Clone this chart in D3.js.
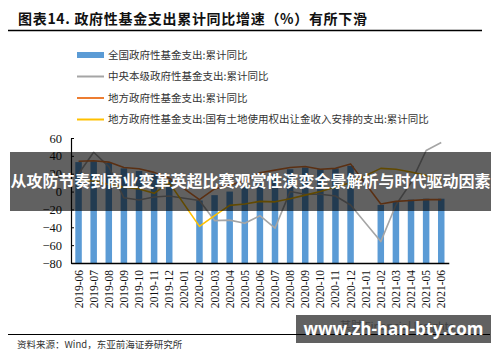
<!DOCTYPE html>
<html>
<head>
<meta charset="utf-8">
<script src="https://cdn.jsdelivr.net/npm/d3@7"></script>
<style>
  body { margin: 0; background: #fff; }
  svg { display: block; }
</style>
</head>
<body>
<svg id="chart" width="500" height="362"></svg>
<script>
// months on the x axis (Jan values are not published)
const months = ["2019-06","2019-07","2019-08","2019-09","2019-10","2019-11","2019-12",
  "2020-01","2020-02","2020-03","2020-04","2020-05","2020-06","2020-07","2020-08",
  "2020-09","2020-10","2020-11","2020-12","2021-01","2021-02","2021-03","2021-04",
  "2021-05","2021-06"];

// 全国政府性基金支出:累计同比 (bars)
const nationalVals = [33, 34, 32, 26, 23, 20, 13.4, null, -10, -4, 0, 5, 13, 19, 25,
  27, 25, 26, 28.8, null, -15, -11, -9, -8, -8];
// 中央本级
const centralVals = [20, 44, 28, -7, -9.5, -6, -5, null, -10, -32.5, -32, -35.5, -27, -41, 0,
  -3, -3, -5, -15, null, -56, -15, 10, 46, 55];
// 地方
const localVals = [34, 34.5, 33, 27, 25.5, 21.5, 15, null, -9, 3, 7, 12, 21, 24, 27,
  28, 25, 26, 31, null, -14, -11, -10, -9, -9];
// 地方: 国有土地使用权出让收入安排的支出
const landVals = [13, 12, 8, 5, 3, -2, 10, null, -39, -27, -15.5, -14, -11, -11.5, -8,
  -4, 0, 5, 10, null, 26, 25, 22, 18, 13];

const yTicks = [-80, -60, -40, -20, 0, 20, 40, 60];

const seriesNames = [
  "全国政府性基金支出:累计同比",
  "中央本级政府性基金支出:累计同比",
  "地方政府性基金支出:累计同比",
  "地方政府性基金支出:国有土地使用权出让金收入安排的支出:累计同比"
];
const colors = ["#5b9bd5", "#a5a5a5", "#ed7d31", "#ffc000"];

const svg = d3.select("#chart");

// title + rule
svg.append("text")
  .attr("x", 18).attr("y", 24)
  .attr("font-family", "'Noto Sans CJK SC', sans-serif")
  .attr("font-weight", "bold")
  .attr("font-size", 14)
  .attr("fill", "#111")
  .attr("textLength", 349).attr("lengthAdjust", "spacing")
  .text("图表14. 政府性基金支出累计同比增速（%）有所下滑");
svg.append("line")
  .attr("x1", 8).attr("x2", 482).attr("y1", 30.5).attr("y2", 30.5)
  .attr("stroke", "#000").attr("stroke-width", 1.5);

// legend
let legend = svg.append("g");
seriesNames.forEach(function (name, i) {
  let y = 55 + i * 21.5;
  if (i == 0) {
    legend.append("rect").attr("x", 77).attr("y", y - 3).attr("width", 27).attr("height", 6)
      .attr("fill", colors[i]);
  } else {
    legend.append("line").attr("x1", 77).attr("x2", 104).attr("y1", y).attr("y2", y)
      .attr("stroke", colors[i]).attr("stroke-width", 2);
  }
  legend.append("text")
    .attr("x", 108).attr("y", y + 3.8)
    .attr("font-family", "'Noto Sans CJK SC', sans-serif")
    .attr("font-size", 10.5)
    .attr("fill", "#333")
    .text(name);
});

// scales
const xScale = d3.scaleBand().domain(months).range([71, 448.8])
  .paddingInner(0.57).paddingOuter(0.285);
const yScale = d3.scaleLinear().domain([-80, 60]).range([263, 138]);
const cx = d => xScale(d) + xScale.bandwidth() / 2;

// bars grow up from the bottom of the axis (-80)
svg.append("g").selectAll("rect")
  .data(months.map((m, i) => ({ m: m, v: nationalVals[i] })).filter(d => d.v !== null))
  .join("rect")
  .attr("x", d => xScale(d.m))
  .attr("width", xScale.bandwidth())
  .attr("y", d => yScale(d.v))
  .attr("height", d => yScale(-80) - yScale(d.v))
  .attr("fill", colors[0]);

// lines, connected across missing months
let lineGen = d3.line().x(d => cx(d.m)).y(d => yScale(d.v));
[centralVals, localVals, landVals].forEach(function (vals, k) {
  let pts = months.map((m, i) => ({ m: m, v: vals[i] })).filter(d => d.v !== null);
  svg.append("path")
    .attr("d", lineGen(pts))
    .attr("fill", "none")
    .attr("stroke", colors[k + 1])
    .attr("stroke-width", 1.6)
    .attr("stroke-linejoin", "round");
});

// y axis
let yAxis = svg.append("g").attr("transform", "translate(71,0)")
  .call(d3.axisLeft(yScale).tickValues(yTicks).tickSize(-3).tickPadding(9).tickSizeOuter(0));
yAxis.select(".domain").attr("stroke", "#000").attr("stroke-width", 1.2);
yAxis.selectAll("line").attr("stroke", "#000");
yAxis.selectAll("text")
  .attr("font-family", "'Liberation Serif', serif")
  .attr("font-size", 12.5).attr("fill", "#111");

// x axis
let xAxis = svg.append("g").attr("transform", "translate(0,263)")
  .call(d3.axisBottom(xScale).tickSize(0).tickSizeOuter(0));
xAxis.select(".domain").attr("stroke", "#000").attr("stroke-width", 1.5);
xAxis.selectAll("text")
  .attr("font-family", "'Liberation Serif', serif")
  .attr("font-size", 11.5).attr("fill", "#111")
  .attr("text-anchor", "end")
  .attr("transform", "rotate(-90)")
  .attr("x", -7).attr("y", 0).attr("dy", "0.35em");

// source line
svg.append("line")
  .attr("x1", 8).attr("x2", 490).attr("y1", 334.5).attr("y2", 334.5)
  .attr("stroke", "#000").attr("stroke-width", 1.2);
svg.append("text")
  .attr("x", 17).attr("y", 348)
  .attr("font-family", "'Noto Sans CJK SC', serif")
  .attr("font-size", 9.5).attr("fill", "#333")
  .text("资料来源：Wind，东亚前海证券研究所");

// faint logo under the site banner
svg.append("text")
  .attr("x", 340).attr("y", 330)
  .attr("font-family", "'Noto Sans CJK SC', sans-serif")
  .attr("font-size", 11).attr("fill", "#aaa")
  .text("某财 Financial Insights");

// overlay band with headline
svg.append("rect").attr("x", 10).attr("y", 152).attr("width", 481).attr("height", 59)
  .attr("fill", "rgba(0,0,0,0.62)");
svg.append("text")
  .attr("x", 250.5).attr("y", 187)
  .attr("text-anchor", "middle")
  .attr("font-family", "'Noto Sans CJK SC', sans-serif")
  .attr("font-weight", "bold").attr("font-size", 15.5)
  .attr("fill", "#fff")
  .attr("textLength", 480).attr("lengthAdjust", "spacingAndGlyphs")
  .text("从攻防节奏到商业变革英超比赛观赏性演变全景解析与时代驱动因素");

// site banner
svg.append("rect").attr("x", 296).attr("y", 315).attr("width", 195).attr("height", 28)
  .attr("fill", "rgba(0,0,0,0.62)");
svg.append("text")
  .attr("x", 393.5).attr("y", 335)
  .attr("text-anchor", "middle")
  .attr("font-family", "'Open Sans', 'DejaVu Sans', sans-serif")
  .attr("font-weight", "bold").attr("font-size", 17)
  .attr("fill", "#fff")
  .text("www.zh-han-bty.com");
</script>
</body>
</html>
